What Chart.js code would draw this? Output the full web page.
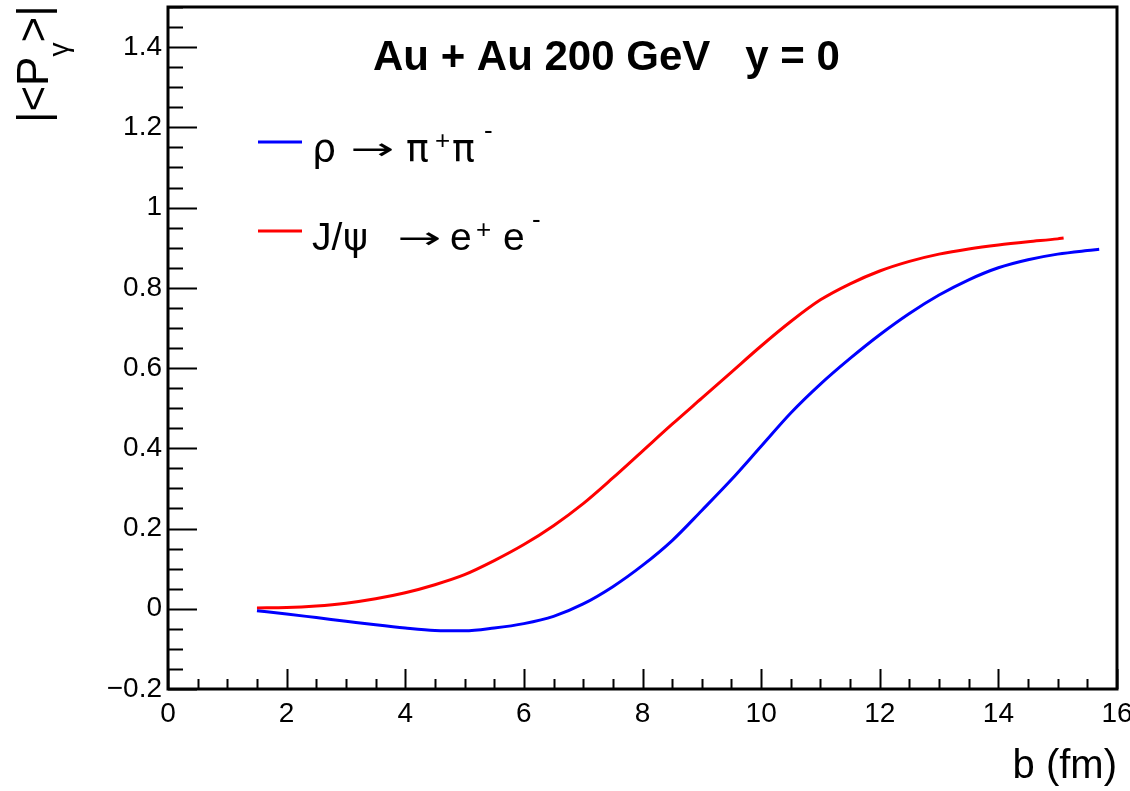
<!DOCTYPE html>
<html>
<head>
<meta charset="utf-8">
<script src="https://cdn.jsdelivr.net/npm/chart.js@4/dist/chart.umd.min.js"></script>
<style>
html,body{margin:0;padding:0;background:#fff;}
#wrap{width:1130px;height:791px;position:relative;}
</style>
</head>
<body>
<div id="wrap"><canvas id="c"></canvas></div>
<script>
// ---- data ----
const rhoB = [1.5,2,2.5,3,3.5,4,4.5,5,5.5,6,6.5,7,7.5,8,8.5,9,9.5,10,10.5,11,11.5,12,12.5,13,13.5,14,14.5,15,15.5,15.7];
const rhoP = [-0.005,-0.013,-0.022,-0.031,-0.040,-0.048,-0.054,-0.055,-0.048,-0.037,-0.019,0.012,0.055,0.108,0.170,0.245,0.322,0.405,0.488,0.560,0.624,0.683,0.736,0.782,0.820,0.850,0.870,0.884,0.893,0.896];
const jpsiB = [1.5,2,2.5,3,3.5,4,4.5,5,5.5,6,6.5,7,7.5,8,8.5,9,9.5,10,10.5,11,11.5,12,12.5,13,13.5,14,14.5,15,15.1];
const jpsiP = [0.002,0.003,0.007,0.014,0.025,0.040,0.060,0.085,0.120,0.160,0.207,0.262,0.326,0.393,0.460,0.525,0.590,0.655,0.716,0.770,0.810,0.842,0.866,0.884,0.897,0.907,0.915,0.922,0.924];
const seriesLabels = [
  ['ρ', '→', 'π', '+', 'π', '-'],
  ['J/', 'ψ', '→', 'e', '+', 'e', '-']
];
const xTicks = [0,2,4,6,8,10,12,14,16];
const yTicks = [-0.2,0,0.2,0.4,0.6,0.8,1,1.2,1.4];
const titleText = 'Au + Au 200 GeV   y = 0';
const xTitle = 'b (fm)';

const FONT = '"Liberation Sans", Arial, Helvetica, sans-serif';

function pts(xs, ys){ return xs.map((x,i)=>({x:x, y:ys[i]})); }

// layout of legend parts (x start and kind of each part, per row)
const legendPartX = [
  [312, 350, 406, 435, 452, 484],
  [312, 343, 397, 450, 476, 503, 532]
];
const legendPartKind = [
  ['greek','arrow','greek','sup','greek','sub-'],
  ['txt','greek','arrow','txt','sup','txt','sub-']
];

const decor = {
  id:'decor',
  afterDraw(chart){
    const ctx = chart.ctx, a = chart.chartArea;
    const xs = chart.scales.x, ys = chart.scales.y;
    ctx.save();
    ctx.strokeStyle = '#000';
    // ticks (inside)
    ctx.lineWidth = 2;
    ctx.beginPath();
    for (let i=0;i<=32;i++){
      const v = i*0.5;
      const px = Math.round(xs.getPixelForValue(v))+0.5;
      const len = (i%4===0) ? 20 : 10;
      ctx.moveTo(px, a.bottom); ctx.lineTo(px, a.bottom-len);
    }
    for (let i=0;i<=34;i++){
      const v = -0.2 + i*0.05;
      const py = Math.round(ys.getPixelForValue(v))+0.5;
      const len = (i%4===0) ? 29 : 15;
      ctx.moveTo(a.left, py); ctx.lineTo(a.left+len, py);
    }
    ctx.stroke();
    // frame
    ctx.lineWidth = 3;
    ctx.strokeRect(a.left, a.top, a.right-a.left, a.bottom-a.top);

    // title
    ctx.fillStyle = '#000';
    ctx.font = 'bold 42px ' + FONT;
    ctx.textBaseline = 'alphabetic';
    ctx.textAlign = 'left';
    ctx.fillText(titleText, 373, 70);

    // legend
    const ds = chart.data.datasets;
    const rowsY = [142, 231];
    ds.forEach((d, i) => {
      const y = rowsY[i];
      ctx.strokeStyle = d.borderColor;
      ctx.lineWidth = 3;
      ctx.beginPath(); ctx.moveTo(258, y); ctx.lineTo(302, y); ctx.stroke();
      const base = y + 19;
      seriesLabels[i].forEach((t, k) => {
        const x = legendPartX[i][k];
        const kind = legendPartKind[i][k];
        if (kind === 'sup'){
          ctx.font = '26px ' + FONT;
          ctx.fillText(t, x, base-12);
        } else if (kind === 'sub-'){
          ctx.font = '26px ' + FONT;
          ctx.fillText(t, x, base-22);
        } else if (kind === 'arrow'){
          ctx.save();
          ctx.font = '30px "DejaVu Sans", sans-serif';
          const w = ctx.measureText(t).width;
          ctx.textBaseline = 'middle';
          ctx.translate(x, y + 9);
          ctx.scale(44 / w, 1);
          ctx.fillText(t, 0, 0);
          ctx.restore();
        } else if (kind === 'greek'){
          ctx.font = '38px "DejaVu Sans", sans-serif';
          ctx.fillText(t, x, base);
        } else {
          ctx.font = '39px ' + FONT;
          ctx.fillText(t, x, base);
        }
      });
    });

    // y axis title, rotated, with subscript
    ctx.translate(48, 123);
    ctx.rotate(-Math.PI/2);
    ctx.font = '44px ' + FONT;
    let x = 0;
    ctx.fillText('|<P', x, 0); x += ctx.measureText('|<P').width;
    ctx.font = '28px ' + FONT;
    ctx.fillText('γ', x, 20); x += ctx.measureText('γ').width;
    ctx.font = '44px ' + FONT;
    ctx.fillText('>|', x, 0);
    ctx.restore();
  }
};

new Chart(document.getElementById('c'), {
  type: 'scatter',
  data: {
    datasets: [
      {label:'rho', data: pts(rhoB, rhoP), showLine:true, borderColor:'#0000ff', borderWidth:3, pointRadius:0, cubicInterpolationMode:'monotone', fill:false},
      {label:'jpsi', data: pts(jpsiB, jpsiP), showLine:true, borderColor:'#ff0000', borderWidth:3, pointRadius:0, cubicInterpolationMode:'monotone', fill:false}
    ]
  },
  options: {
    responsive:true, maintainAspectRatio:false, animation:false,
    layout:{padding:{top:7,right:13,left:0,bottom:0}},
    plugins:{legend:{display:false}, tooltip:{enabled:false}, title:{display:false}},
    scales:{
      x:{
        type:'linear', min:0, max:16,
        afterBuildTicks: s => { s.ticks = xTicks.map(v=>({value:v})); },
        afterFit: s => { s.height = 102; s.paddingLeft = 0; s.paddingRight = 0; },
        grid:{display:false, drawTicks:false}, border:{display:false},
        ticks:{color:'#000', font:{family:FONT, size:28}, padding:8, maxRotation:0, autoSkip:false, callback:v=>String(v)},
        title:{display:true, text:xTitle, align:'end', color:'#000', font:{family:FONT, size:40}, padding:{top:0,bottom:0}}
      },
      y:{
        type:'linear', min:-0.2, max:1.5,
        afterBuildTicks: s => { s.ticks = yTicks.map(v=>({value:v})); },
        afterFit: s => { s.width = 168; s.paddingTop = 0; s.paddingBottom = 0; },
        grid:{display:false, drawTicks:false}, border:{display:false},
        ticks:{color:'#000', font:{family:FONT, size:28}, padding:6, autoSkip:false,
          callback:v=>{ const r = Math.round(v*10)/10; return r<0 ? '\u2212'+Math.abs(r) : String(r); }}
      }
    }
  },
  plugins:[decor]
});
</script>
</body>
</html>
